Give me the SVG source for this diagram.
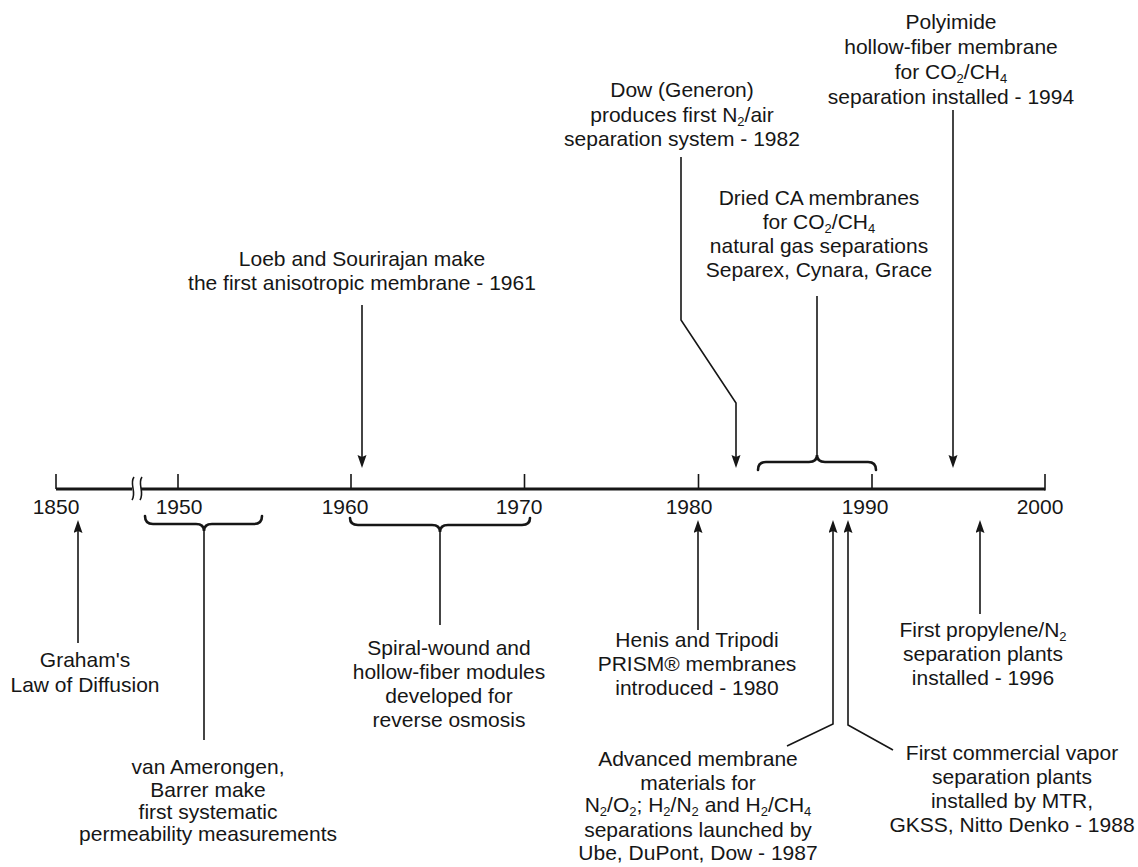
<svg xmlns="http://www.w3.org/2000/svg" width="1138" height="867" viewBox="0 0 1138 867">
<style>
text { font-family: "Liberation Sans", Arial, Helvetica, sans-serif; font-size: 21px; fill: #161616; text-anchor: middle; }
.sub { font-size: 13px; }
.ln { stroke: #161616; stroke-width: 1.6; fill: none; }
.br { stroke: #161616; stroke-width: 2.6; fill: none; stroke-linecap: round; }
.ax { stroke: #161616; stroke-width: 3.2; fill: none; }
.tk { stroke: #161616; stroke-width: 1.6; fill: none; }
</style>
<defs>
<marker id="ah" markerUnits="userSpaceOnUse" markerWidth="14" markerHeight="10" refX="10" refY="4.5" orient="auto" viewBox="0 0 14 10">
<path d="M0,0 L13,4.5 L0,9 L2,4.5 z" fill="#161616"/>
</marker>
</defs>
<rect width="1138" height="867" fill="#ffffff"/>

<g id="axis">
<line class="ax" x1="56" y1="489" x2="132" y2="489"/>
<line class="ax" x1="141" y1="489" x2="1045" y2="489"/>
<path class="tk" d="M134,477 C129,484 137,492 132,500"/>
<path class="tk" d="M142,477 C137,484 145,492 140,500"/>
<line class="tk" x1="56" y1="474" x2="56" y2="489"/>
<line class="tk" x1="178" y1="474" x2="178" y2="489"/>
<line class="tk" x1="351" y1="474" x2="351" y2="489"/>
<line class="tk" x1="524.5" y1="474" x2="524.5" y2="489"/>
<line class="tk" x1="698.5" y1="474" x2="698.5" y2="489"/>
<line class="tk" x1="872" y1="474" x2="872" y2="489"/>
<line class="tk" x1="1045" y1="474" x2="1045" y2="490.5"/>
<text x="56" y="514">1850</text>
<text x="179" y="514">1950</text>
<text x="345" y="514">1960</text>
<text x="519" y="514">1970</text>
<text x="689" y="514">1980</text>
<text x="865" y="514">1990</text>
<text x="1040" y="514">2000</text>
</g>

<g id="connectors">
<line class="ln" x1="953" y1="110" x2="953" y2="465" marker-end="url(#ah)"/>
<polyline class="ln" points="681,157 681,320 736,403 736,465" marker-end="url(#ah)"/>
<line class="ln" x1="817" y1="296" x2="817" y2="455"/>
<line class="ln" x1="362" y1="305" x2="362" y2="465" marker-end="url(#ah)"/>
<line class="ln" x1="78" y1="643" x2="78" y2="523" marker-end="url(#ah)"/>
<line class="ln" x1="204" y1="531" x2="204" y2="740"/>
<line class="ln" x1="440" y1="532" x2="440" y2="625"/>
<line class="ln" x1="698" y1="630" x2="698" y2="523" marker-end="url(#ah)"/>
<polyline class="ln" points="787,746 833,724 833,523" marker-end="url(#ah)"/>
<polyline class="ln" points="893,750 848,725 848,523" marker-end="url(#ah)"/>
<line class="ln" x1="980" y1="614" x2="980" y2="523" marker-end="url(#ah)"/>
<path class="br" d="M758,470 Q758,462 766,462 L809,462 Q817,462 817,455 Q817,462 825,462 L868,462 Q876,462 876,470"/>
<path class="br" d="M145,516 Q145,524 153,524 L196,524 Q204,524 204,531 Q204,524 212,524 L254,524 Q262,524 262,516"/>
<path class="br" d="M350,518 Q350,525 358,525 L432,525 Q440,525 440,532 Q440,525 448,525 L522,525 Q530,525 530,518"/>
</g>

<g id="polyimide">
<text x="951" y="29">Polyimide</text>
<text x="951" y="54">hollow-fiber membrane</text>
<text x="951" y="79">for CO<tspan class="sub" dy="4">2</tspan><tspan dy="-4">/CH</tspan><tspan class="sub" dy="4">4</tspan></text>
<text x="951" y="104">separation installed - 1994</text>
</g>

<g id="dow">
<text x="682" y="97">Dow (Generon)</text>
<text x="682" y="122">produces first N<tspan class="sub" dy="4">2</tspan><tspan dy="-4">/air</tspan></text>
<text x="682" y="146">separation system - 1982</text>
</g>

<g id="dried-ca">
<text x="819" y="205">Dried CA membranes</text>
<text x="819" y="229">for CO<tspan class="sub" dy="4">2</tspan><tspan dy="-4">/CH</tspan><tspan class="sub" dy="4">4</tspan></text>
<text x="819" y="253">natural gas separations</text>
<text x="819" y="277">Separex, Cynara, Grace</text>
</g>

<g id="loeb">
<text x="362" y="266">Loeb and Sourirajan make</text>
<text x="362" y="290">the first anisotropic membrane - 1961</text>
</g>

<g id="graham">
<text x="85" y="667">Graham's</text>
<text x="85" y="692">Law of Diffusion</text>
</g>

<g id="van-amerongen">
<text x="208" y="774">van Amerongen,</text>
<text x="208" y="797">Barrer make</text>
<text x="208" y="819">first systematic</text>
<text x="208" y="841">permeability measurements</text>
</g>

<g id="spiral-wound">
<text x="449" y="655">Spiral-wound and</text>
<text x="449" y="679">hollow-fiber modules</text>
<text x="449" y="703">developed for</text>
<text x="449" y="727">reverse osmosis</text>
</g>

<g id="henis">
<text x="697" y="647">Henis and Tripodi</text>
<text x="697" y="671">PRISM® membranes</text>
<text x="697" y="695">introduced - 1980</text>
</g>

<g id="advanced">
<text x="698" y="766">Advanced membrane</text>
<text x="698" y="790">materials for</text>
<text x="698" y="812">N<tspan class="sub" dy="4">2</tspan><tspan dy="-4">/O</tspan><tspan class="sub" dy="4">2</tspan><tspan dy="-4">; H</tspan><tspan class="sub" dy="4">2</tspan><tspan dy="-4">/N</tspan><tspan class="sub" dy="4">2</tspan><tspan dy="-4"> and H</tspan><tspan class="sub" dy="4">2</tspan><tspan dy="-4">/CH</tspan><tspan class="sub" dy="4">4</tspan></text>
<text x="698" y="837">separations launched by</text>
<text x="698" y="860">Ube, DuPont, Dow - 1987</text>
</g>

<g id="propylene">
<text x="983" y="637">First propylene/N<tspan class="sub" dy="4">2</tspan></text>
<text x="983" y="661">separation plants</text>
<text x="983" y="685">installed - 1996</text>
</g>

<g id="vapor">
<text x="1012" y="760">First commercial vapor</text>
<text x="1012" y="784">separation plants</text>
<text x="1012" y="808">installed by MTR,</text>
<text x="1012" y="832">GKSS, Nitto Denko - 1988</text>
</g>
</svg>
